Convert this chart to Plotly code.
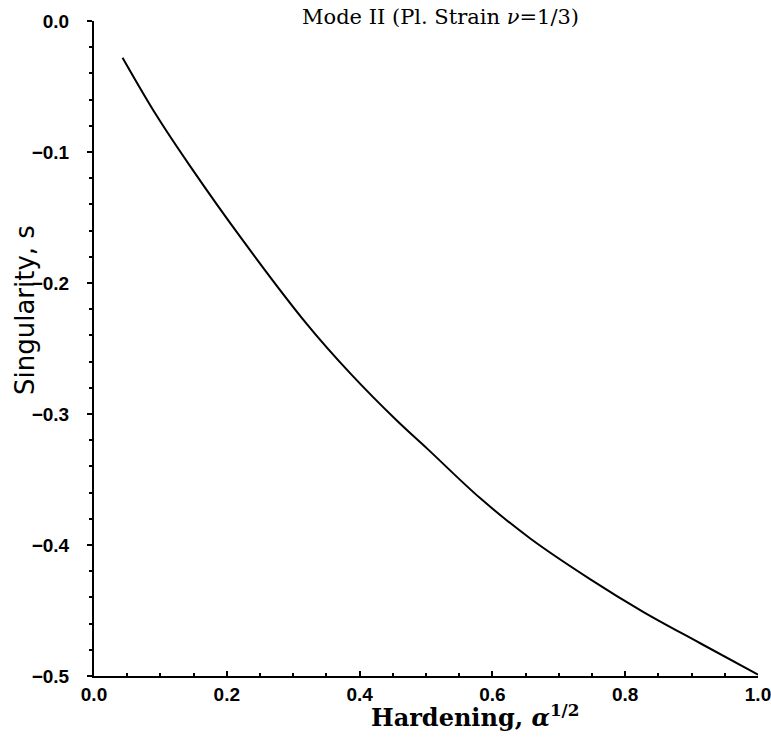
import plotly.graph_objects as go

# Data
hardening = [0.043, 0.094, 0.145, 0.222, 0.320, 0.386, 0.456, 0.503,
             0.581, 0.657, 0.747, 0.827, 0.913, 1.0]
singularity = [-0.028, -0.072, -0.111, -0.166, -0.231, -0.269, -0.305, -0.327,
               -0.364, -0.395, -0.426, -0.451, -0.475, -0.499]

x_ticks = [0.0, 0.2, 0.4, 0.6, 0.8, 1.0]
y_ticks = [0.0, -0.1, -0.2, -0.3, -0.4, -0.5]
title_text = "Mode II (Pl. Strain <i>ν</i>=1/3)"
x_title = "Hardening, <i>α</i><sup>1/2</sup>"
y_title = "Singularity, s"

W, H = 771, 742
L, R, T, B = 94, 13, 21, 66

fig = go.Figure()
fig.add_trace(go.Scatter(x=hardening, y=singularity, mode="lines",
                         line=dict(color="black", width=2, smoothing=1.0), line_shape="spline",
                         showlegend=False, hoverinfo="skip"))

tick_font = dict(family="Liberation Sans", size=19, color="black", weight="bold")
fig.update_xaxes(range=[0, 1.0], tickvals=x_ticks, ticktext=[f"{v:.1f}" for v in x_ticks],
                 showline=True, linecolor="black", linewidth=2, showgrid=False, zeroline=False,
                 automargin=False, ticklabeloverflow="allow",
                 ticks="inside", ticklen=5, tickwidth=2, tickcolor="black", tickfont=tick_font,
                 minor=dict(dtick=0.05, ticks="inside", ticklen=3, tickwidth=2, tickcolor="black", showgrid=False))
fig.update_yaxes(range=[-0.5, 0.0], tickvals=y_ticks,
                 ticktext=["0.0"] + [f"\u2212{abs(v):.1f}" for v in y_ticks[1:]],
                 showline=True, linecolor="black", linewidth=2, showgrid=False, zeroline=False,
                 automargin=False, ticklabeloverflow="allow",
                 ticks="outside", ticklen=5, tickwidth=2, tickcolor="black", tickfont=tick_font,
                 ticklabelstandoff=14,
                 minor=dict(dtick=0.02, ticks="outside", ticklen=3, tickwidth=2, tickcolor="black", showgrid=False))

pw = W - L - R
ph = H - T - B


def px(xp):
    return (xp - L) / pw


def py(yp):
    return (H - B - yp) / ph


fig.update_layout(
    width=W, height=H,
    margin=dict(l=L, r=R, t=T, b=B),
    plot_bgcolor="white", paper_bgcolor="white",
    annotations=[
        dict(text=title_text, x=px(440), y=py(17), xref="paper", yref="paper", showarrow=False,
             xanchor="center", yanchor="middle",
             font=dict(family="DejaVu Serif", size=21, color="black")),
        dict(text=x_title, x=px(475), y=py(716), xref="paper", yref="paper", showarrow=False,
             xanchor="center", yanchor="middle",
             font=dict(family="DejaVu Serif", size=24, color="black", weight="bold")),
        dict(text=y_title, x=px(25), y=py(310), xref="paper", yref="paper", showarrow=False,
             xanchor="center", yanchor="middle",
             textangle=-90, font=dict(family="DejaVu Sans", size=26, color="black")),
    ],
)

fig.write_html("out.html", config={"displayModeBar": False},
               post_script="document.body.style.margin='0';")
